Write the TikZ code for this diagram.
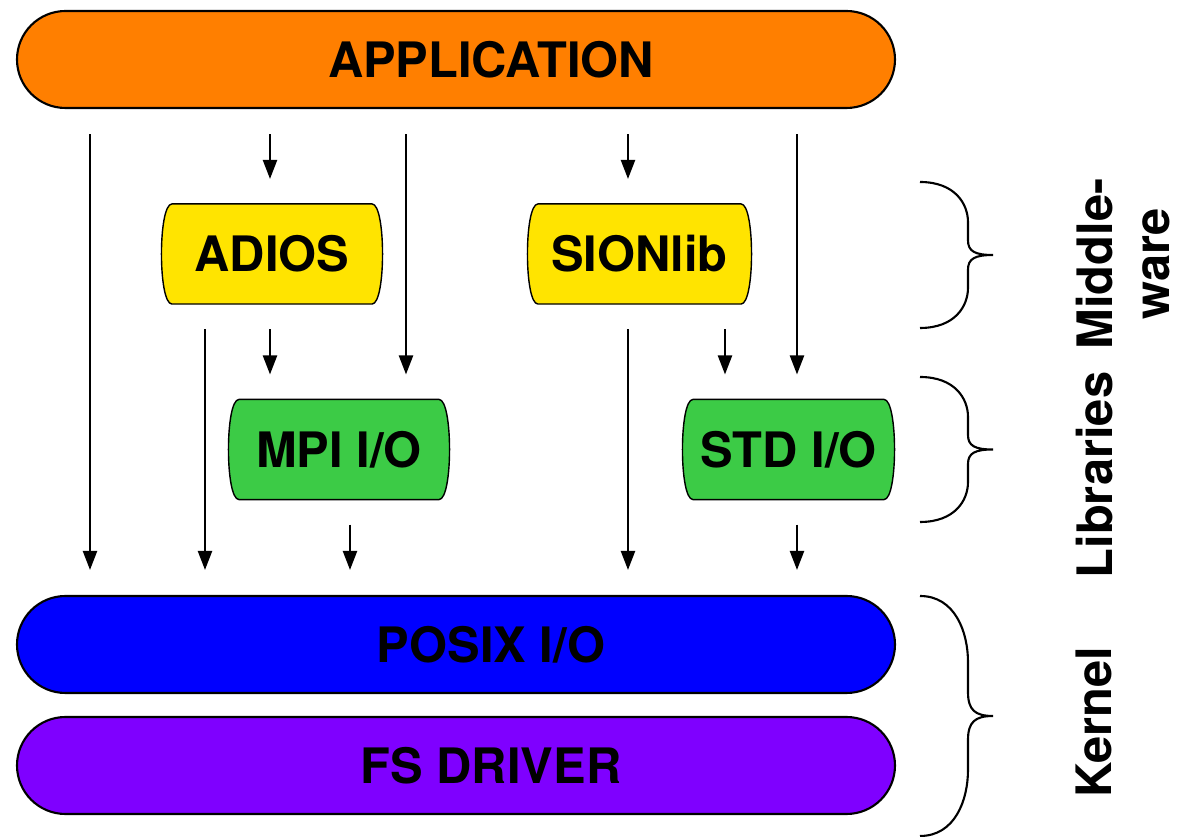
\documentclass[tikz,border=0pt]{standalone}
\usepackage{fontspec}
\setmainfont{TeX Gyre Heros}
\usetikzlibrary{arrows.meta,backgrounds}
\definecolor{appcol}{RGB}{255,127,0}
\definecolor{midcol}{RGB}{255,228,0}
\definecolor{libcol}{RGB}{60,203,70}
\definecolor{kercol}{RGB}{127,0,255}

\begin{document}
\begin{tikzpicture}[
  line width=0.6pt,
  >={Triangle[width=4pt,length=5.4pt]},
  font=\fontsize{13.9}{16.3}\selectfont\bfseries,
  layer/.style={draw, rounded corners=4.85mm, minimum width=8.78cm, minimum height=9.7mm, inner sep=0pt},
  lib/.style={minimum height=9.8mm, inner sep=0pt},
  side/.style={rotate=90, anchor=north, inner sep=0pt, align=center}
]
\useasboundingbox (0,0) rectangle (11.77,8.37);
\node[layer, fill=appcol, label={[xshift=0.35cm]center:APPLICATION}] (app) at (4.56,7.775) {};
\node[lib, minimum width=2.18cm] (adios) at (2.72,5.83) {ADIOS};
\node[lib, minimum width=2.21cm] (sion) at (6.395,5.83) {SIONlib};
\node[lib, minimum width=2.18cm] (mpi) at (3.39,3.875) {MPI I/O};
\node[lib, minimum width=2.09cm] (std) at (7.885,3.875) {STD I/O};
\node[layer, fill=blue, label={[xshift=0.35cm]center:POSIX I/O}] (posix) at (4.56,1.925) {};
\node[layer, fill=kercol, label={[xshift=0.35cm]center:FS DRIVER}] (fs) at (4.56,0.715) {};
\begin{scope}[on background layer]
\foreach \n/\c in {adios/midcol, sion/midcol, mpi/libcol, std/libcol}
  \draw[fill=\c] ([xshift=0.1cm]\n.north west) -- ([xshift=-0.1cm]\n.north east)
    .. controls ([xshift=0.04cm]\n.north east) and ([xshift=0.04cm]\n.south east) .. ([xshift=-0.1cm]\n.south east)
    -- ([xshift=0.1cm]\n.south west)
    .. controls ([xshift=-0.04cm]\n.south west) and ([xshift=-0.04cm]\n.north west) .. cycle;
\end{scope}
\foreach \x/\a/\b in {0.90/app/posix, 2.70/app/adios, 4.06/app/mpi, 6.28/app/sion, 7.97/app/std,
  2.05/adios/posix, 2.70/adios/mpi, 6.28/sion/posix, 7.25/sion/std, 3.50/mpi/posix, 7.97/std/posix}
  \draw[->, shorten <=0.25cm, shorten >=0.25cm] (\a.south -| \x,0) -- (\b.north -| \x,0);
\foreach \t/\b in {6.55/5.09, 4.60/3.15, 2.41/0.01} {
  \pgfmathsetmacro\m{(\t+\b)/2}
  \pgfmathsetmacro\h{(\t-\b)/2}
  \draw (9.20,\t) .. controls (9.55,\t) and (9.68,\t-0.3*\h) .. (9.68,\t-0.55*\h)
    -- (9.68,\m+0.2*\h) .. controls (9.68,\m+0.05*\h) and (9.75,\m) .. (9.93,\m)
    .. controls (9.75,\m) and (9.68,\m-0.05*\h) .. (9.68,\m-0.2*\h)
    -- (9.68,\b+0.55*\h) .. controls (9.68,\b+0.3*\h) and (9.55,\b) .. (9.20,\b);
}
\node[side] (mw) at (10.75,5.73) {Middle-\\ware};
\node[side] (lb) at (10.75,3.62) {Libraries};
\node[side] (kn) at (10.75,1.15) {Kernel};
\end{tikzpicture}
\end{document}
